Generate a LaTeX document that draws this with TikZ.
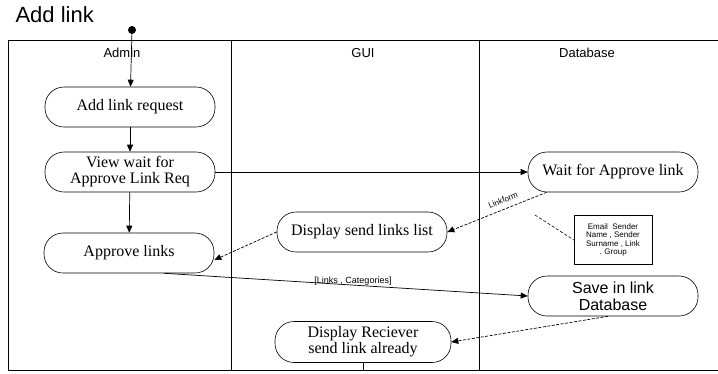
\documentclass[tikz,border=0pt]{standalone}
\usepackage{fontspec}
\setmainfont{Liberation Serif}
\setsansfont{Liberation Sans}
\usetikzlibrary{arrows.meta,calc}

\begin{document}
\begin{tikzpicture}[x=1pt,y=-1pt,
    act/.style={draw,rounded corners=19pt,minimum width=170pt,minimum height=40pt,inner sep=2pt,align=center,font=\fontsize{16}{16}\selectfont,line width=0.6pt},
    flow/.style={-{Triangle[length=7pt,width=6pt]},line width=0.7pt},
    dflow/.style={flow,dashed,dash pattern=on 3pt off 1.5pt},
    small/.style={font=\sffamily\fontsize{8}{8.5}\selectfont}]

\useasboundingbox (0,0) rectangle (718,373);

\node[anchor=west,font=\sffamily\fontsize{22}{22}\selectfont] (title) at (12,15) {Add link};
\draw[line width=0.6pt] (718,40) -- (8,40) -- (8,370) -- (718,370);
\foreach \x in {231,479}
    \draw[line width=0.6pt] (\x,40) -- (\x,370);
\foreach \lane/\x in {Admin/122,GUI/363,Database/587}
    \node[font=\sffamily\fontsize{13}{13}\selectfont] (lane\lane) at (\x,53) {\lane};

\fill (132,30) circle (4pt);
\coordinate (start) at (132,30);

\node[act] (addreq) at (130,107) {Add link request};
\node[act] (viewwait) at (130,172) {View wait for\\Approve Link Req};
\node[act] (approve) at (129,253) {Approve links};
\node[act] (waitapp) at (613,172) {Wait for Approve link};
\node[act] (sendlist) at (362,232) {Display send links list};
\node[act,font=\sffamily\fontsize{16}{17}\selectfont] (savedb) at (613,296) {Save in link\\Database};
\node[act,minimum width=176pt,minimum height=41pt] (recv) at (363,342) {Display Reciever\\send link already};
\node[draw,small,align=center,minimum width=78pt,minimum height=49pt,inner sep=1pt] (fields) at (613,240)
    {Email \ Sender\\Name , Sender\\Surname , Link\\. Group};

\draw[flow] (start) -- (addreq);
\draw[flow] (addreq) -- (viewwait);
\draw[flow] (viewwait) -- (approve);
\draw[flow] (viewwait.east) -- (waitapp.west);
\draw[dflow] (waitapp.197) -- (sendlist.east);
\node[small,rotate=22,inner sep=1pt] (linkform) at (503,200) {Linkform};
\coordinate (note) at (535,215);
\draw[dashed,dash pattern=on 3pt off 2pt,line width=0.6pt] (note) -- (fields.west);
\draw[dflow] (sendlist.west) -- ($(approve.east)+(0,7)$);
\draw[flow] (approve.-30) -- (savedb.west);
\node[font=\sffamily\fontsize{9}{9}\selectfont,inner sep=1pt] (linkscat) at (353,281) {[Links , Categories]};
\draw[dflow] ($(savedb.south)+(-5,0)$) -- (recv.east);
\coordinate (endrecv) at (363,370);
\draw[line width=0.6pt] (recv.south) -- (endrecv);

\end{tikzpicture}
\end{document}
